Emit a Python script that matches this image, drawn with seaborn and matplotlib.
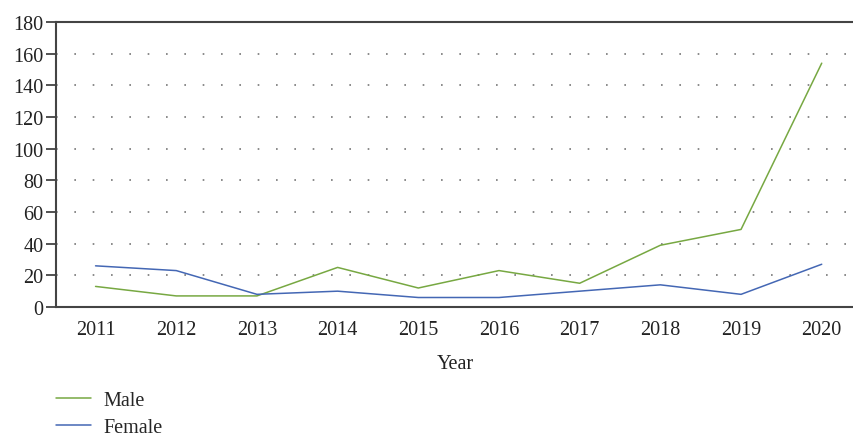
import matplotlib
matplotlib.use("Agg")
import matplotlib.pyplot as plt
import pandas as pd
import seaborn as sns

# Data
years = [2011, 2012, 2013, 2014, 2015, 2016, 2017, 2018, 2019, 2020]
male = [13, 7, 7, 25, 12, 23, 15, 39, 49, 154]
female = [26, 23, 8, 10, 6, 6, 10, 14, 8, 27]

df = pd.DataFrame({
    "Year": years * 2,
    "Count": male + female,
    "Sex": ["Male"] * len(years) + ["Female"] * len(years),
})

sns.set_theme(style="white")
plt.rcParams["font.family"] = ["Liberation Serif", "DejaVu Serif"]

fig = plt.figure(figsize=(8.54, 4.39), dpi=100)
ax = fig.add_axes([0.0656, 0.2984, 0.9344, 0.6492])

sns.lineplot(data=df, x="Year", y="Count", hue="Sex",
             palette={"Male": "#77a842", "Female": "#4467b4"},
             linewidth=1.1, ax=ax, legend=True)

ax.set_xlim(2010.51, 2020.40)
ax.set_ylim(0, 180)
ax.set_yticks(range(0, 181, 20))
ax.set_xticks(years)
ax.tick_params(axis="both", labelsize=14.5, colors="#222222")
ax.tick_params(axis="y", length=7, width=1.2, direction="out", left=True, color="#333333", pad=2)
ax.tick_params(axis="x", length=0, pad=9)
ax.set_xlabel("Year", fontsize=14.5, labelpad=11, color="#222222")
ax.set_ylabel("")

for y in range(20, 180, 20):
    ax.axhline(y, color="#777777", linewidth=1.2, linestyle=(0, (1, 10)), zorder=0)

for side in ["left", "bottom", "top"]:
    ax.spines[side].set_color("#444444")
    ax.spines[side].set_linewidth(1.5)
ax.spines["right"].set_visible(False)

handles, labels = ax.get_legend_handles_labels()
ax.legend_.remove()
fig.legend(handles, labels, loc="upper left", bbox_to_anchor=(0.0656, 0.108),
           frameon=False, fontsize=14.5, handlelength=1.75, handletextpad=0.6,
           labelspacing=0.4, borderpad=0, borderaxespad=0)

fig.savefig("out.png", dpi=100)
